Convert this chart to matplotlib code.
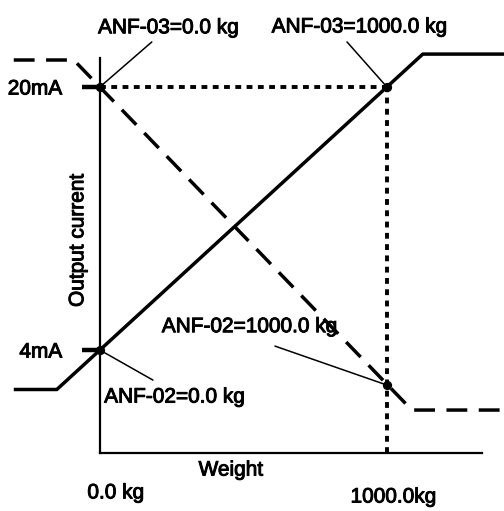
import matplotlib
matplotlib.use('Agg')
from matplotlib import pyplot as plt
from matplotlib import patheffects

plt.rcParams['font.family'] = ['Liberation Sans', 'DejaVu Sans']

# output curve, rising (solid) and falling (dashed)
weight_rise = [-300, -150, 1125, 1410]
current_rise = [1.6, 1.6, 22.0, 22.0]
weight_fall = [-300, -91, 1087, 1410]
current_fall = [21.64, 21.64, 0.35, 0.35]

# set points
point_weight = [0, 1000, 0, 1000]
point_current = [20, 20, 4, 1.87]
point_labels = ["ANF-03=0.0 kg", "ANF-03=1000.0 kg", "ANF-02=0.0 kg", "ANF-02=1000.0 kg"]

y_ticks = [4, 20]
y_tick_labels = ["4mA", "20mA"]
x_labels = ["0.0 kg", "1000.0kg"]

# scanned look: slightly heavier text
heavy = [patheffects.withStroke(linewidth=0.7, foreground='black')]

fig = plt.figure(figsize=(5.04, 5.11), dpi=100)
ax = fig.add_axes([0, 0, 1, 1])
ax.set_xlim(-348, 1408)
ax.set_ylim(-5.79, 25.29)

ax.plot(weight_rise, current_rise, color='black', lw=2.5, solid_capstyle='butt')
ax.plot(weight_fall, current_fall, color='black', lw=2.5, ls=(0, (6.0, 3.3)))

# guide lines to the 1000 kg / 20 mA points
ax.plot([point_weight[0], point_weight[1]], [point_current[0], point_current[1]],
        color='black', lw=2.8, ls=(0, (1.5, 1.4)))
ax.plot([point_weight[1], point_weight[1]], [-2.26, point_current[1]],
        color='black', lw=2.8, ls=(0, (1.5, 1.4)))

ax.scatter(point_weight, point_current, s=32, color='black', zorder=5)

# labels and leader lines
text_pos = [(240, 23.6), (906, 23.65), (261, 1.14), (523, 5.42)]
lead_from = [(181, 22.74), (861, 22.74), (185, 2.17), (610, 4.24)]
for lab, (tx, ty), (lx, ly), px, py in zip(point_labels, text_pos, lead_from,
                                           point_weight, point_current):
    ax.text(tx, ty, lab, fontsize=15, ha='center', va='center', path_effects=heavy)
    ax.annotate('', xy=(px, py), xytext=(lx, ly),
                arrowprops=dict(arrowstyle='-', lw=1.1, color='black',
                                shrinkA=0, shrinkB=0))

# axes
for s in ['top', 'right']:
    ax.spines[s].set_visible(False)
ax.spines['left'].set_position(('data', 0))
ax.spines['left'].set_bounds(-2.26, 21.76)
ax.spines['bottom'].set_position(('data', -2.26))
ax.spines['bottom'].set_bounds(0, 1331)
ax.spines['left'].set_linewidth(1.6)
ax.spines['bottom'].set_linewidth(1.6)

ax.set_yticks(y_ticks)
ax.set_yticklabels(y_tick_labels, fontsize=15)
for t in ax.get_yticklabels():
    t.set_path_effects(heavy)
ax.tick_params(axis='y', direction='out', length=13, width=3.2, pad=14)
ax.set_xticks([])

ax.text(56, -4.69, x_labels[0], fontsize=15, ha='center', va='center', path_effects=heavy)
ax.text(1024, -4.94, x_labels[1], fontsize=15, ha='center', va='center', path_effects=heavy)
ax.text(457, -3.3, "Weight", fontsize=15, ha='center', va='center', path_effects=heavy)
ax.text(-77, 10.69, "Output current", fontsize=15, ha='center', va='center',
        rotation=90, path_effects=heavy)

fig.savefig('out.png', dpi=100)
